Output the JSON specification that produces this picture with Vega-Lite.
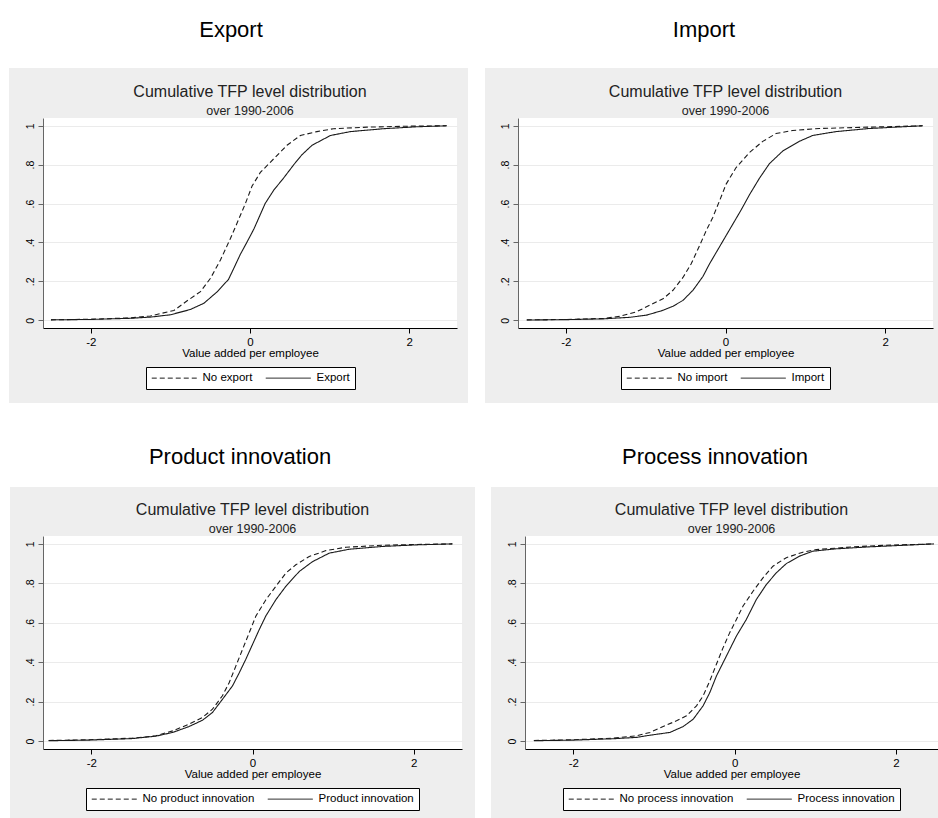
{
  "$schema": "https://vega.github.io/schema/vega-lite/v6.json",
  "background": "#eeeeee",
  "padding": {"left": 0, "top": 0, "right": 0, "bottom": 0},
  "datasets": {
    "export": [
      {"g": "No export", "x": -2.5, "y": 0.002}, {"g": "No export", "x": -2.0, "y": 0.005}, {"g": "No export", "x": -1.5, "y": 0.012}, {"g": "No export", "x": -1.25, "y": 0.022}, {"g": "No export", "x": -0.956, "y": 0.05}, {"g": "No export", "x": -0.789, "y": 0.1}, {"g": "No export", "x": -0.622, "y": 0.147}, {"g": "No export", "x": -0.496, "y": 0.216}, {"g": "No export", "x": -0.371, "y": 0.31}, {"g": "No export", "x": -0.246, "y": 0.42}, {"g": "No export", "x": -0.162, "y": 0.5}, {"g": "No export", "x": -0.058, "y": 0.6}, {"g": "No export", "x": 0.026, "y": 0.69}, {"g": "No export", "x": 0.13, "y": 0.76}, {"g": "No export", "x": 0.298, "y": 0.83}, {"g": "No export", "x": 0.465, "y": 0.9}, {"g": "No export", "x": 0.632, "y": 0.95}, {"g": "No export", "x": 0.841, "y": 0.97}, {"g": "No export", "x": 1.05, "y": 0.985}, {"g": "No export", "x": 1.468, "y": 0.993}, {"g": "No export", "x": 2.0, "y": 0.998}, {"g": "No export", "x": 2.47, "y": 1.0},
      {"g": "Export", "x": -2.5, "y": 0.002}, {"g": "Export", "x": -2.0, "y": 0.004}, {"g": "Export", "x": -1.5, "y": 0.01}, {"g": "Export", "x": -1.25, "y": 0.016}, {"g": "Export", "x": -1.0, "y": 0.028}, {"g": "Export", "x": -0.75, "y": 0.055}, {"g": "Export", "x": -0.58, "y": 0.087}, {"g": "Export", "x": -0.41, "y": 0.147}, {"g": "Export", "x": -0.27, "y": 0.21}, {"g": "Export", "x": -0.2, "y": 0.27}, {"g": "Export", "x": -0.12, "y": 0.34}, {"g": "Export", "x": -0.04, "y": 0.4}, {"g": "Export", "x": 0.05, "y": 0.47}, {"g": "Export", "x": 0.19, "y": 0.6}, {"g": "Export", "x": 0.3, "y": 0.67}, {"g": "Export", "x": 0.42, "y": 0.73}, {"g": "Export", "x": 0.55, "y": 0.8}, {"g": "Export", "x": 0.65, "y": 0.85}, {"g": "Export", "x": 0.78, "y": 0.9}, {"g": "Export", "x": 1.01, "y": 0.95}, {"g": "Export", "x": 1.26, "y": 0.97}, {"g": "Export", "x": 1.68, "y": 0.985}, {"g": "Export", "x": 2.1, "y": 0.995}, {"g": "Export", "x": 2.47, "y": 1.0}
    ],
    "import": [
      {"g": "No import", "x": -2.49, "y": 0.002}, {"g": "No import", "x": -1.99, "y": 0.004}, {"g": "No import", "x": -1.53, "y": 0.009}, {"g": "No import", "x": -1.325, "y": 0.02}, {"g": "No import", "x": -1.117, "y": 0.043}, {"g": "No import", "x": -0.95, "y": 0.077}, {"g": "No import", "x": -0.783, "y": 0.11}, {"g": "No import", "x": -0.658, "y": 0.154}, {"g": "No import", "x": -0.533, "y": 0.22}, {"g": "No import", "x": -0.43, "y": 0.29}, {"g": "No import", "x": -0.325, "y": 0.384}, {"g": "No import", "x": -0.242, "y": 0.46}, {"g": "No import", "x": -0.158, "y": 0.53}, {"g": "No import", "x": -0.075, "y": 0.614}, {"g": "No import", "x": 0.008, "y": 0.7}, {"g": "No import", "x": 0.133, "y": 0.785}, {"g": "No import", "x": 0.3, "y": 0.862}, {"g": "No import", "x": 0.467, "y": 0.92}, {"g": "No import", "x": 0.633, "y": 0.96}, {"g": "No import", "x": 0.842, "y": 0.976}, {"g": "No import", "x": 1.175, "y": 0.986}, {"g": "No import", "x": 1.8, "y": 0.993}, {"g": "No import", "x": 2.47, "y": 1.0},
      {"g": "Import", "x": -2.49, "y": 0.001}, {"g": "Import", "x": -1.99, "y": 0.003}, {"g": "Import", "x": -1.53, "y": 0.007}, {"g": "Import", "x": -1.2, "y": 0.015}, {"g": "Import", "x": -0.99, "y": 0.026}, {"g": "Import", "x": -0.783, "y": 0.051}, {"g": "Import", "x": -0.658, "y": 0.072}, {"g": "Import", "x": -0.533, "y": 0.102}, {"g": "Import", "x": -0.408, "y": 0.154}, {"g": "Import", "x": -0.283, "y": 0.225}, {"g": "Import", "x": -0.2, "y": 0.29}, {"g": "Import", "x": -0.1, "y": 0.36}, {"g": "Import", "x": 0.0, "y": 0.43}, {"g": "Import", "x": 0.1, "y": 0.5}, {"g": "Import", "x": 0.2, "y": 0.57}, {"g": "Import", "x": 0.3, "y": 0.645}, {"g": "Import", "x": 0.425, "y": 0.73}, {"g": "Import", "x": 0.55, "y": 0.805}, {"g": "Import", "x": 0.717, "y": 0.87}, {"g": "Import", "x": 0.925, "y": 0.92}, {"g": "Import", "x": 1.092, "y": 0.95}, {"g": "Import", "x": 1.383, "y": 0.97}, {"g": "Import", "x": 1.8, "y": 0.986}, {"g": "Import", "x": 2.47, "y": 1.0}
    ],
    "product": [
      {"g": "No product innovation", "x": -2.53, "y": 0.003}, {"g": "No product innovation", "x": -2.03, "y": 0.007}, {"g": "No product innovation", "x": -1.49, "y": 0.015}, {"g": "No product innovation", "x": -1.2, "y": 0.027}, {"g": "No product innovation", "x": -0.99, "y": 0.052}, {"g": "No product innovation", "x": -0.787, "y": 0.086}, {"g": "No product innovation", "x": -0.62, "y": 0.12}, {"g": "No product innovation", "x": -0.497, "y": 0.162}, {"g": "No product innovation", "x": -0.373, "y": 0.23}, {"g": "No product innovation", "x": -0.29, "y": 0.296}, {"g": "No product innovation", "x": -0.207, "y": 0.38}, {"g": "No product innovation", "x": -0.124, "y": 0.465}, {"g": "No product innovation", "x": -0.041, "y": 0.549}, {"g": "No product innovation", "x": 0.041, "y": 0.633}, {"g": "No product innovation", "x": 0.166, "y": 0.717}, {"g": "No product innovation", "x": 0.29, "y": 0.785}, {"g": "No product innovation", "x": 0.414, "y": 0.852}, {"g": "No product innovation", "x": 0.538, "y": 0.894}, {"g": "No product innovation", "x": 0.704, "y": 0.936}, {"g": "No product innovation", "x": 0.911, "y": 0.966}, {"g": "No product innovation", "x": 1.16, "y": 0.983}, {"g": "No product innovation", "x": 1.615, "y": 0.993}, {"g": "No product innovation", "x": 2.03, "y": 0.997}, {"g": "No product innovation", "x": 2.48, "y": 1.0},
      {"g": "Product innovation", "x": -2.53, "y": 0.002}, {"g": "Product innovation", "x": -2.03, "y": 0.005}, {"g": "Product innovation", "x": -1.49, "y": 0.013}, {"g": "Product innovation", "x": -1.2, "y": 0.025}, {"g": "Product innovation", "x": -0.99, "y": 0.044}, {"g": "Product innovation", "x": -0.787, "y": 0.074}, {"g": "Product innovation", "x": -0.62, "y": 0.106}, {"g": "Product innovation", "x": -0.497, "y": 0.145}, {"g": "Product innovation", "x": -0.373, "y": 0.212}, {"g": "Product innovation", "x": -0.248, "y": 0.28}, {"g": "Product innovation", "x": -0.166, "y": 0.345}, {"g": "Product innovation", "x": -0.083, "y": 0.415}, {"g": "Product innovation", "x": 0.0, "y": 0.49}, {"g": "Product innovation", "x": 0.083, "y": 0.565}, {"g": "Product innovation", "x": 0.166, "y": 0.635}, {"g": "Product innovation", "x": 0.29, "y": 0.717}, {"g": "Product innovation", "x": 0.414, "y": 0.785}, {"g": "Product innovation", "x": 0.58, "y": 0.86}, {"g": "Product innovation", "x": 0.745, "y": 0.91}, {"g": "Product innovation", "x": 0.952, "y": 0.953}, {"g": "Product innovation", "x": 1.2, "y": 0.973}, {"g": "Product innovation", "x": 1.615, "y": 0.987}, {"g": "Product innovation", "x": 2.03, "y": 0.995}, {"g": "Product innovation", "x": 2.48, "y": 1.0}
    ],
    "process": [
      {"g": "No process innovation", "x": -2.49, "y": 0.003}, {"g": "No process innovation", "x": -2.0, "y": 0.007}, {"g": "No process innovation", "x": -1.505, "y": 0.015}, {"g": "No process innovation", "x": -1.216, "y": 0.027}, {"g": "No process innovation", "x": -1.05, "y": 0.044}, {"g": "No process innovation", "x": -0.887, "y": 0.074}, {"g": "No process innovation", "x": -0.722, "y": 0.103}, {"g": "No process innovation", "x": -0.598, "y": 0.128}, {"g": "No process innovation", "x": -0.474, "y": 0.179}, {"g": "No process innovation", "x": -0.392, "y": 0.229}, {"g": "No process innovation", "x": -0.309, "y": 0.305}, {"g": "No process innovation", "x": -0.227, "y": 0.39}, {"g": "No process innovation", "x": -0.144, "y": 0.474}, {"g": "No process innovation", "x": -0.062, "y": 0.55}, {"g": "No process innovation", "x": 0.021, "y": 0.617}, {"g": "No process innovation", "x": 0.103, "y": 0.685}, {"g": "No process innovation", "x": 0.227, "y": 0.76}, {"g": "No process innovation", "x": 0.35, "y": 0.828}, {"g": "No process innovation", "x": 0.474, "y": 0.887}, {"g": "No process innovation", "x": 0.639, "y": 0.93}, {"g": "No process innovation", "x": 0.845, "y": 0.958}, {"g": "No process innovation", "x": 1.01, "y": 0.971}, {"g": "No process innovation", "x": 1.464, "y": 0.985}, {"g": "No process innovation", "x": 1.876, "y": 0.993}, {"g": "No process innovation", "x": 2.47, "y": 1.0},
      {"g": "Process innovation", "x": -2.49, "y": 0.002}, {"g": "Process innovation", "x": -2.0, "y": 0.005}, {"g": "Process innovation", "x": -1.505, "y": 0.012}, {"g": "Process innovation", "x": -1.216, "y": 0.019}, {"g": "Process innovation", "x": -1.05, "y": 0.03}, {"g": "Process innovation", "x": -0.804, "y": 0.044}, {"g": "Process innovation", "x": -0.639, "y": 0.074}, {"g": "Process innovation", "x": -0.515, "y": 0.111}, {"g": "Process innovation", "x": -0.392, "y": 0.179}, {"g": "Process innovation", "x": -0.309, "y": 0.246}, {"g": "Process innovation", "x": -0.227, "y": 0.33}, {"g": "Process innovation", "x": -0.144, "y": 0.398}, {"g": "Process innovation", "x": -0.062, "y": 0.465}, {"g": "Process innovation", "x": 0.021, "y": 0.533}, {"g": "Process innovation", "x": 0.144, "y": 0.617}, {"g": "Process innovation", "x": 0.268, "y": 0.718}, {"g": "Process innovation", "x": 0.392, "y": 0.794}, {"g": "Process innovation", "x": 0.515, "y": 0.853}, {"g": "Process innovation", "x": 0.639, "y": 0.9}, {"g": "Process innovation", "x": 0.804, "y": 0.938}, {"g": "Process innovation", "x": 0.969, "y": 0.963}, {"g": "Process innovation", "x": 1.258, "y": 0.975}, {"g": "Process innovation", "x": 1.67, "y": 0.985}, {"g": "Process innovation", "x": 2.47, "y": 1.0}
    ]
  },
  "spacing": 0,
  "resolve": {"scale": {"strokeDash": "independent"}, "legend": {"strokeDash": "independent"}},
  "vconcat": [
    {
      "bounds": "flush", "spacing": 0,
      "hconcat": [
        {"width": 462, "height": 68, "data": {"values": [{"t": "Export"}]}, "layer": [
          {"mark": {"type": "rect", "color": "white"}, "encoding": {}},
          {"mark": {"type": "text", "fontSize": 22, "baseline": "alphabetic", "dy": 3, "color": "#000"}, "encoding": {"text": {"field": "t"}}}
        ]},
        {"width": 476, "height": 68, "data": {"values": [{"t": "Import"}]}, "layer": [
          {"mark": {"type": "rect", "color": "white"}, "encoding": {}},
          {"mark": {"type": "text", "fontSize": 22, "baseline": "alphabetic", "dy": 3, "dx": 4, "color": "#000"}, "encoding": {"text": {"field": "t"}}}
        ]}
      ]
    },
    {
      "bounds": "flush", "spacing": 0,
      "hconcat": [
        {"width": 9, "height": 50, "data": {"values": [{"t": ""}]}, "mark": {"type": "rect", "color": "white"}, "encoding": {}},
        {"width": 34, "height": 50, "data": {"values": [{"t": ""}]}, "mark": {"type": "text"}, "encoding": {"text": {"field": "t"}}},
        {"width": 414, "height": 50, "data": {"values": [{"t": "Cumulative TFP level distribution", "s": "over 1990-2006"}]}, "layer": [
          {"mark": {"type": "text", "fontSize": 16, "baseline": "alphabetic", "dy": 4, "color": "#222"}, "encoding": {"text": {"field": "t"}}},
          {"mark": {"type": "text", "fontSize": 12.5, "baseline": "alphabetic", "dy": 22, "color": "#222"}, "encoding": {"text": {"field": "s"}}}
        ]},
        {"width": 11, "height": 50, "data": {"values": [{"t": ""}]}, "mark": {"type": "text"}, "encoding": {"text": {"field": "t"}}},
        {"width": 17, "height": 50, "data": {"values": [{"t": ""}]}, "mark": {"type": "rect", "color": "white"}, "encoding": {}},
        {"width": 33, "height": 50, "data": {"values": [{"t": ""}]}, "mark": {"type": "text"}, "encoding": {"text": {"field": "t"}}},
        {"width": 415, "height": 50, "data": {"values": [{"t": "Cumulative TFP level distribution", "s": "over 1990-2006"}]}, "layer": [
          {"mark": {"type": "text", "fontSize": 16, "baseline": "alphabetic", "dy": 4, "color": "#222"}, "encoding": {"text": {"field": "t"}}},
          {"mark": {"type": "text", "fontSize": 12.5, "baseline": "alphabetic", "dy": 22, "color": "#222"}, "encoding": {"text": {"field": "s"}}}
        ]},
        {"width": 5, "height": 50, "data": {"values": [{"t": ""}]}, "mark": {"type": "text"}, "encoding": {"text": {"field": "t"}}}
      ]
    },
    {
      "bounds": "flush", "spacing": 0,
      "resolve": {"scale": {"strokeDash": "independent"}, "legend": {"strokeDash": "independent"}},
      "hconcat": [
        {"width": 9, "height": 285, "data": {"values": [{"t": ""}]}, "mark": {"type": "rect", "color": "white"}, "encoding": {}},
        {"width": 34, "height": 285, "data": {"values": [{"t": ""}]}, "mark": {"type": "text"}, "encoding": {"text": {"field": "t"}}},
        {
          "width": 414, "height": 210,
          "view": {"fill": "white"},
          "data": {"name": "export"},
          "mark": {"type": "line", "color": "#1a1a1a", "strokeWidth": 1.1, "clip": true},
          "encoding": {
            "x": {"field": "x", "type": "quantitative", "scale": {"domain": [-2.6, 2.6], "nice": false, "zero": false}, "axis": {"values": [-2, 0, 2], "title": "Value added per employee", "grid": false}},
            "y": {"field": "y", "type": "quantitative", "scale": {"domain": [-0.04, 1.04], "nice": false, "zero": false}, "axis": {"values": [0, 0.2, 0.4, 0.6, 0.8, 1], "title": null}},
            "strokeDash": {"field": "g", "type": "nominal", "scale": {"domain": ["No export", "Export"], "range": [[5, 3], [1, 0]]}, "legend": {"title": null}}
          }
        },
        {"width": 11, "height": 285, "data": {"values": [{"t": ""}]}, "mark": {"type": "text"}, "encoding": {"text": {"field": "t"}}},
        {"width": 17, "height": 285, "data": {"values": [{"t": ""}]}, "mark": {"type": "rect", "color": "white"}, "encoding": {}},
        {"width": 33, "height": 285, "data": {"values": [{"t": ""}]}, "mark": {"type": "text"}, "encoding": {"text": {"field": "t"}}},
        {
          "width": 415, "height": 210,
          "view": {"fill": "white"},
          "data": {"name": "import"},
          "mark": {"type": "line", "color": "#1a1a1a", "strokeWidth": 1.1, "clip": true},
          "encoding": {
            "x": {"field": "x", "type": "quantitative", "scale": {"domain": [-2.6, 2.6], "nice": false, "zero": false}, "axis": {"values": [-2, 0, 2], "title": "Value added per employee", "grid": false}},
            "y": {"field": "y", "type": "quantitative", "scale": {"domain": [-0.04, 1.04], "nice": false, "zero": false}, "axis": {"values": [0, 0.2, 0.4, 0.6, 0.8, 1], "title": null}},
            "strokeDash": {"field": "g", "type": "nominal", "scale": {"domain": ["No import", "Import"], "range": [[5, 3], [1, 0]]}, "legend": {"title": null}}
          }
        },
        {"width": 5, "height": 285, "data": {"values": [{"t": ""}]}, "mark": {"type": "text"}, "encoding": {"text": {"field": "t"}}}
      ]
    },
    {
      "bounds": "flush", "spacing": 0,
      "hconcat": [
        {"width": 480, "height": 84, "data": {"values": [{"t": "Product innovation"}]}, "layer": [
          {"mark": {"type": "rect", "color": "white"}, "encoding": {}},
          {"mark": {"type": "text", "fontSize": 22, "baseline": "alphabetic", "dy": 19, "color": "#000"}, "encoding": {"text": {"field": "t"}}}
        ]},
        {"width": 458, "height": 84, "data": {"values": [{"t": "Process innovation"}]}, "layer": [
          {"mark": {"type": "rect", "color": "white"}, "encoding": {}},
          {"mark": {"type": "text", "fontSize": 22, "baseline": "alphabetic", "dy": 19, "dx": 6, "color": "#000"}, "encoding": {"text": {"field": "t"}}}
        ]}
      ]
    },
    {
      "bounds": "flush", "spacing": 0,
      "hconcat": [
        {"width": 10, "height": 49, "data": {"values": [{"t": ""}]}, "mark": {"type": "rect", "color": "white"}, "encoding": {}},
        {"width": 33, "height": 49, "data": {"values": [{"t": ""}]}, "mark": {"type": "text"}, "encoding": {"text": {"field": "t"}}},
        {"width": 419, "height": 49, "data": {"values": [{"t": "Cumulative TFP level distribution", "s": "over 1990-2006"}]}, "layer": [
          {"mark": {"type": "text", "fontSize": 16, "baseline": "alphabetic", "dy": 3, "color": "#222"}, "encoding": {"text": {"field": "t"}}},
          {"mark": {"type": "text", "fontSize": 12.5, "baseline": "alphabetic", "dy": 21, "color": "#222"}, "encoding": {"text": {"field": "s"}}}
        ]},
        {"width": 13, "height": 49, "data": {"values": [{"t": ""}]}, "mark": {"type": "text"}, "encoding": {"text": {"field": "t"}}},
        {"width": 16, "height": 49, "data": {"values": [{"t": ""}]}, "mark": {"type": "rect", "color": "white"}, "encoding": {}},
        {"width": 34, "height": 49, "data": {"values": [{"t": ""}]}, "mark": {"type": "text"}, "encoding": {"text": {"field": "t"}}},
        {"width": 413, "height": 49, "data": {"values": [{"t": "Cumulative TFP level distribution", "s": "over 1990-2006"}]}, "layer": [
          {"mark": {"type": "text", "fontSize": 16, "baseline": "alphabetic", "dy": 3, "color": "#222"}, "encoding": {"text": {"field": "t"}}},
          {"mark": {"type": "text", "fontSize": 12.5, "baseline": "alphabetic", "dy": 21, "color": "#222"}, "encoding": {"text": {"field": "s"}}}
        ]}
      ]
    },
    {
      "bounds": "flush", "spacing": 0,
      "resolve": {"scale": {"strokeDash": "independent"}, "legend": {"strokeDash": "independent"}},
      "hconcat": [
        {"width": 10, "height": 282, "data": {"values": [{"t": ""}]}, "mark": {"type": "rect", "color": "white"}, "encoding": {}},
        {"width": 33, "height": 282, "data": {"values": [{"t": ""}]}, "mark": {"type": "text"}, "encoding": {"text": {"field": "t"}}},
        {
          "width": 419, "height": 213,
          "view": {"fill": "white"},
          "data": {"name": "product"},
          "mark": {"type": "line", "color": "#1a1a1a", "strokeWidth": 1.1, "clip": true},
          "encoding": {
            "x": {"field": "x", "type": "quantitative", "scale": {"domain": [-2.6, 2.6], "nice": false, "zero": false}, "axis": {"values": [-2, 0, 2], "title": "Value added per employee", "grid": false}},
            "y": {"field": "y", "type": "quantitative", "scale": {"domain": [-0.04, 1.04], "nice": false, "zero": false}, "axis": {"values": [0, 0.2, 0.4, 0.6, 0.8, 1], "title": null}},
            "strokeDash": {"field": "g", "type": "nominal", "scale": {"domain": ["No product innovation", "Product innovation"], "range": [[5, 3], [1, 0]]}, "legend": {"title": null}}
          }
        },
        {"width": 13, "height": 282, "data": {"values": [{"t": ""}]}, "mark": {"type": "text"}, "encoding": {"text": {"field": "t"}}},
        {"width": 16, "height": 282, "data": {"values": [{"t": ""}]}, "mark": {"type": "rect", "color": "white"}, "encoding": {}},
        {"width": 34, "height": 282, "data": {"values": [{"t": ""}]}, "mark": {"type": "text"}, "encoding": {"text": {"field": "t"}}},
        {
          "width": 413, "height": 213,
          "view": {"fill": "white"},
          "data": {"name": "process"},
          "mark": {"type": "line", "color": "#1a1a1a", "strokeWidth": 1.1, "clip": true},
          "encoding": {
            "x": {"field": "x", "type": "quantitative", "scale": {"domain": [-2.6, 2.52], "nice": false, "zero": false}, "axis": {"values": [-2, 0, 2], "title": "Value added per employee", "grid": false}},
            "y": {"field": "y", "type": "quantitative", "scale": {"domain": [-0.04, 1.04], "nice": false, "zero": false}, "axis": {"values": [0, 0.2, 0.4, 0.6, 0.8, 1], "title": null}},
            "strokeDash": {"field": "g", "type": "nominal", "scale": {"domain": ["No process innovation", "Process innovation"], "range": [[5, 3], [1, 0]]}, "legend": {"title": null}}
          }
        }
      ]
    }
  ],
  "config": {
    "font": "Liberation Sans",
    "view": {"stroke": null, "fill": null},
    "text": {"font": "Liberation Sans"},
    "axis": {"labelFont": "Liberation Sans", "titleFont": "Liberation Sans", "labelColor": "#000", "titleColor": "#000", "titleFontWeight": "normal", "labelFontSize": 11.5, "titleFontSize": 11.5, "domainColor": "#333", "tickColor": "#333", "tickSize": 5, "labelPadding": 3, "titlePadding": 0, "gridColor": "#ebebeb", "labelFlush": false, "labelOverlap": false},
    "axisY": {"grid": true, "labelAngle": 270, "labelAlign": "center", "labelBaseline": "bottom", "labelFontSize": 10.5, "labelExpr": "datum.value == 0 ? '0' : datum.value == 1 ? '1' : replace(format(datum.value, '.1f'), '0.', '.')", "domainColor": "#666", "tickColor": "#666"},
    "axisX": {"grid": false, "domainColor": "#000", "tickColor": "#000", "labelExpr": "datum.value < 0 ? '-' + abs(datum.value) : '' + datum.value"},
    "legend": {"orient": "bottom", "direction": "horizontal", "offset": 8, "padding": 5, "strokeColor": "#000", "fillColor": "white", "labelFont": "Liberation Sans", "labelFontSize": 11.5, "labelColor": "#000", "symbolType": "M-1,0H8", "symbolSize": 100, "symbolStrokeWidth": 1, "symbolStrokeColor": "#1a1a1a", "labelOffset": 40, "columnSpacing": 16, "layout": {"bottom": {"anchor": "middle"}}}
  }
}
